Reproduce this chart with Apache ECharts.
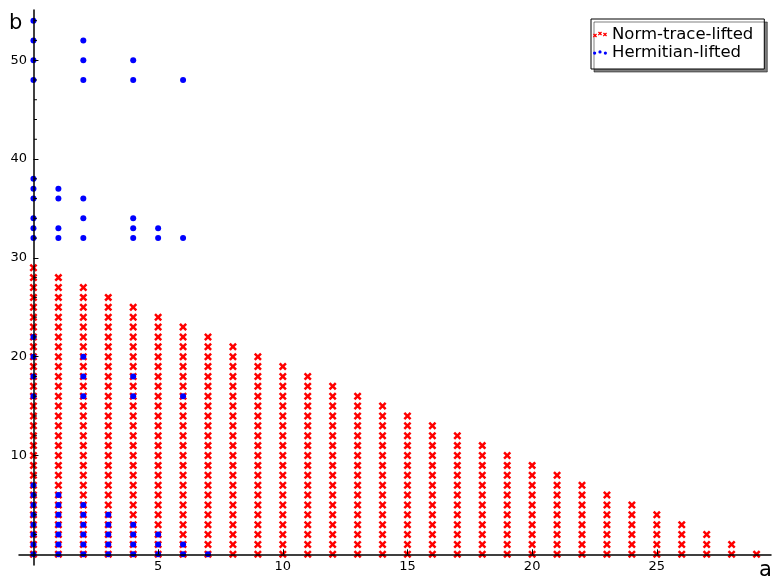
<!DOCTYPE html>
<html>
<head>
<meta charset="utf-8">
<script src="https://cdn.jsdelivr.net/npm/echarts@6/dist/echarts.min.js"></script>
<style>
html,body{margin:0;padding:0;background:#fff;}
#chart{width:781px;height:584px;}
</style>
</head>
<body>
<div id="chart"></div>
<script>
// ---- Data ----
// Norm-trace-lifted: for each column a, points at b = 0 .. top
const normTraceA   = [0,1,2,3,4,5,6,7,8,9,10,11,12,13,14,15,16,17,18,19,20,21,22,23,24,25,26,27,28,29];
const normTraceTop = [29,28,27,26,25,24,23,22,21,20,19,18,17,16,15,14,13,12,11,10,9,8,7,6,5,4,3,2,1,0];

// Hermitian-lifted: b values in each column a
const hermitianA  = [0, 1, 2, 3, 4, 5, 6, 7];
const hermB_a0 = [0,1,2,3,4,5,6,7,16,18,20,22,32,33,34,36,37,38,48,50,52,54];
const hermB_a1 = [0,1,2,3,4,5,6,32,33,36,37];
const hermB_a2 = [0,1,2,3,4,5,16,18,20,32,34,36,48,50,52];
const hermB_a3 = [0,1,2,3,4];
const hermB_a4 = [0,1,2,3,16,18,32,33,34,48,50];
const hermB_a5 = [0,1,2,32,33];
const hermB_a6 = [0,1,16,32,48];
const hermB_a7 = [0];
const hermitianB = [hermB_a0, hermB_a1, hermB_a2, hermB_a3, hermB_a4, hermB_a5, hermB_a6, hermB_a7];

// Tick labels
const xTickValues = [5, 10, 15, 20, 25];
const yTickValues = [10, 20, 30, 40, 50];
const yMinorTicks = [2,4,6,8,12,14,16,18,22,24,26,28,32,34,36,38,42,44,46,48,52,54];

// ---- Build series data ----
const normTraceData = [];
normTraceA.forEach((a, i) => {
  for (let b = 0; b <= normTraceTop[i]; b++) normTraceData.push([a, b]);
});
const hermitianData = [];
hermitianA.forEach((a, i) => {
  hermitianB[i].forEach(b => hermitianData.push([a, b]));
});
const minorTickData = yMinorTicks.map(b => [0, b]);

const X_PATH = 'path://M0,2.2L2.2,0L5,2.8L7.8,0L10,2.2L7.2,5L10,7.8L7.8,10L5,7.2L2.2,10L0,7.8L2.8,5Z';
function crossAt(x, y, s, t) {
  return 'M' + x + ',' + (y + t) + 'L' + (x + t) + ',' + y + 'L' + (x + s/2) + ',' + (y + s/2 - t) +
    'L' + (x + s - t) + ',' + y + 'L' + (x + s) + ',' + (y + t) + 'L' + (x + s/2 + t) + ',' + (y + s/2) +
    'L' + (x + s) + ',' + (y + s - t) + 'L' + (x + s - t) + ',' + (y + s) + 'L' + (x + s/2) + ',' + (y + s/2 + t) +
    'L' + x + ',' + (y + s) + 'L' + x + ',' + (y + s - t) + 'L' + (x + s/2 - t) + ',' + (y + s/2) + 'Z';
}
const LEG_X = 'path://' + crossAt(0, 2, 4, 0.9) + crossAt(5, 0, 4, 0.9) + crossAt(10, 1, 4, 0.9);
function dotAt(cx, cy, r) {
  return 'M' + (cx - r) + ',' + cy + 'A' + r + ',' + r + ',0,1,0,' + (cx + r) + ',' + cy +
         'A' + r + ',' + r + ',0,1,0,' + (cx - r) + ',' + cy + 'Z';
}
const LEG_DOT = 'path://' + dotAt(1.5, 2.5, 1.5) + dotAt(6.5, 1.5, 1.5) + dotAt(11.5, 2.5, 1.5);

const FONT = 'DejaVu Sans';
const chart = echarts.init(document.getElementById('chart'), null, {renderer: 'canvas'});
chart.setOption({
  animation: false,
  backgroundColor: '#ffffff',
  textStyle: {fontFamily: FONT},
  grid: {left: 19, right: 10, top: 10, bottom: 19, containLabel: false, outerBoundsMode: 'none'},
  legend: {
    orient: 'vertical',
    left: 591, top: 19,
    padding: [7, 11, 8, 2],
    itemGap: 1,
    backgroundColor: '#ffffff',
    borderColor: '#000000',
    borderWidth: 1,
    borderRadius: 0,
    shadowColor: 'rgba(0,0,0,0.5)',
    shadowBlur: 0,
    shadowOffsetX: 3,
    shadowOffsetY: 3,
    textStyle: {fontFamily: FONT, fontSize: 16.5, color: '#000'},
    data: [
      {name: 'Norm-trace-lifted', icon: LEG_X, itemStyle: {color: '#ff0000', opacity: 1}},
      {name: 'Hermitian-lifted', icon: LEG_DOT, itemStyle: {color: '#0000ff', opacity: 1}}
    ],
    itemWidth: 14, itemHeight: 6
  },
  xAxis: {
    type: 'value', min: -0.58, max: 29.58, z: 10,
    axisLine: {onZero: true, lineStyle: {color: '#000', width: 1.5}},
    axisTick: {show: true, inside: true, length: 5, customValues: xTickValues, lineStyle: {color: '#000'}},
    axisLabel: {customValues: xTickValues, color: '#000', fontSize: 13, margin: -5, fontFamily: FONT},
    splitLine: {show: false}
  },
  yAxis: {
    type: 'value', min: -1.08, max: 55.08, position: 'left', z: 10,
    axisLine: {onZero: true, lineStyle: {color: '#000', width: 1.5}},
    axisTick: {show: true, inside: true, length: 5, customValues: yTickValues, lineStyle: {color: '#000'}},
    axisLabel: {customValues: yTickValues, color: '#000', fontSize: 13, margin: -8, fontFamily: FONT},
    splitLine: {show: false}
  },
  graphic: [
    {type: 'text', left: 9, top: 13, z: 20, style: {text: 'b', font: '21px "DejaVu Sans"', fill: '#000'}},
    {type: 'text', left: 759, top: 560, z: 20, style: {text: 'a', font: '21px "DejaVu Sans"', fill: '#000'}}
  ],
  series: [{
    name: 'Norm-trace-lifted', type: 'scatter',
    symbol: X_PATH, symbolSize: 8,
    itemStyle: {color: '#ff0000', opacity: 1},
    data: normTraceData, z: 2
  }, {
    name: 'Hermitian-lifted', type: 'scatter',
    symbol: 'circle', symbolSize: 6,
    itemStyle: {color: '#0000ff', opacity: 1},
    data: hermitianData, z: 3
  }, {
    name: 'minor-ticks', type: 'scatter', silent: true,
    symbol: 'rect', symbolSize: [3, 1], symbolOffset: [2, 0],
    itemStyle: {color: '#000', opacity: 1},
    data: minorTickData, z: 4
  }]
});
</script>
</body>
</html>
